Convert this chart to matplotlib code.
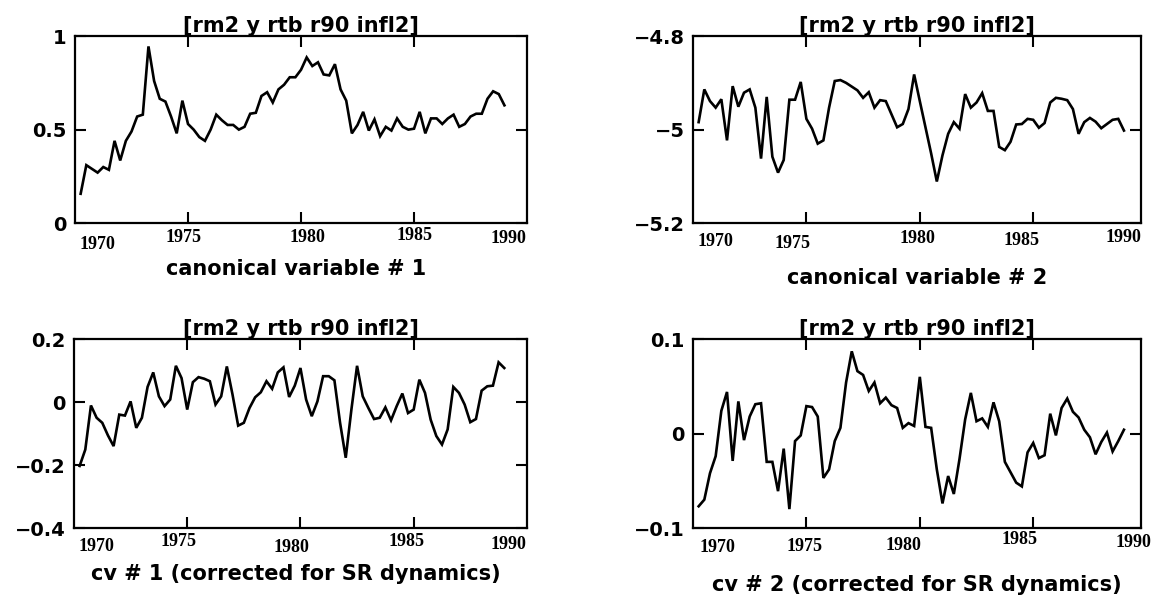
import numpy as np
import matplotlib.pyplot as plt

plt.rcParams['font.family'] = ['DejaVu Sans']

# quarterly observations, 1970Q2 .. 1989Q1
quarters = 1970.25 + 0.25 * np.arange(76)

model = '[rm2 y rtb r90 infl2]'
year_labels = ['1970', '1975', '1980', '1985', '1990']

cv1 = [0.157, 0.31, 0.29, 0.27, 0.30, 0.285, 0.44, 0.335, 0.44, 0.49,
       0.57, 0.58, 0.945, 0.76, 0.665, 0.65, 0.57, 0.48, 0.655, 0.53,
       0.50, 0.46, 0.44, 0.50, 0.58, 0.55, 0.525, 0.525, 0.50, 0.515,
       0.585, 0.59, 0.68, 0.70, 0.645, 0.715, 0.74, 0.78, 0.78, 0.82,
       0.886, 0.84, 0.86, 0.795, 0.79, 0.85, 0.715, 0.655, 0.48, 0.525,
       0.595, 0.495, 0.555, 0.465, 0.515, 0.495, 0.56, 0.515, 0.50, 0.505,
       0.595, 0.48, 0.56, 0.56, 0.53, 0.56, 0.58, 0.515, 0.53, 0.57,
       0.585, 0.585, 0.665, 0.705, 0.69, 0.63]

cv2 = [-4.984, -4.914, -4.939, -4.953, -4.935, -5.023, -4.907, -4.951, -4.921, -4.914,
       -4.953, -5.062, -4.930, -5.058, -5.092, -5.065, -4.936, -4.936, -4.898, -4.977,
       -4.998, -5.030, -5.023, -4.953, -4.896, -4.894, -4.900, -4.908, -4.916, -4.932,
       -4.920, -4.953, -4.937, -4.939, -4.967, -4.995, -4.988, -4.956, -4.882, -4.939,
       -4.995, -5.051, -5.111, -5.055, -5.009, -4.984, -4.998, -4.924, -4.953, -4.942,
       -4.922, -4.960, -4.960, -5.037, -5.044, -5.026, -4.989, -4.988, -4.977, -4.979,
       -4.996, -4.986, -4.942, -4.932, -4.934, -4.937, -4.956, -5.009, -4.984, -4.975,
       -4.983, -4.997, -4.988, -4.979, -4.977, -5.002]

cv1_sr = [-0.203, -0.151, -0.011, -0.050, -0.066, -0.106, -0.140, -0.040, -0.043, 0.002,
          -0.082, -0.050, 0.048, 0.094, 0.018, -0.013, 0.008, 0.115, 0.076, -0.024,
          0.063, 0.079, 0.074, 0.066, -0.008, 0.018, 0.113, 0.024, -0.075, -0.066,
          -0.019, 0.015, 0.031, 0.066, 0.042, 0.094, 0.110, 0.016, 0.052, 0.108,
          0.008, -0.045, 0.002, 0.082, 0.082, 0.069, -0.066, -0.177, -0.024, 0.115,
          0.018, -0.019, -0.054, -0.050, -0.017, -0.058, -0.013, 0.027, -0.035, -0.024,
          0.071, 0.029, -0.056, -0.108, -0.135, -0.087, 0.048, 0.029, -0.008, -0.064,
          -0.054, 0.036, 0.050, 0.052, 0.126, 0.108]

cv2_sr = [-0.077, -0.070, -0.042, -0.024, 0.024, 0.044, -0.029, 0.034, -0.007, 0.018,
          0.031, 0.032, -0.030, -0.030, -0.061, -0.016, -0.080, -0.008, -0.002, 0.029,
          0.028, 0.018, -0.047, -0.038, -0.008, 0.006, 0.054, 0.087, 0.066, 0.062,
          0.045, 0.054, 0.032, 0.038, 0.030, 0.027, 0.006, 0.011, 0.008, 0.060,
          0.007, 0.006, -0.038, -0.074, -0.045, -0.064, -0.027, 0.015, 0.043, 0.013,
          0.016, 0.007, 0.033, 0.013, -0.030, -0.041, -0.052, -0.056, -0.020, -0.010,
          -0.026, -0.023, 0.021, -0.002, 0.027, 0.037, 0.023, 0.017, 0.004, -0.004,
          -0.022, -0.009, 0.001, -0.019, -0.008, 0.004]

panels = [
    dict(values=cv1, rect=[0.065, 0.625, 0.3917, 0.3143], xmax=1990,
         ylim=(0, 1), yticks=[0, 0.5, 1], ylabels=['0', '0.5', '1'],
         caption='canonical variable # 1', cap_xy=(0.49, -0.245),
         lab_x=[1971.0, 1974.8, 1980.3, 1985.0, 1989.2],
         lab_y=[-0.114, -0.079, -0.075, -0.065, -0.082]),
    dict(values=cv2, rect=[0.6005, 0.625, 0.3882, 0.3143], xmax=1989.75,
         ylim=(-5.2, -4.8), yticks=[-5.2, -5.0, -4.8],
         ylabels=['\u22125.2', '\u22125', '\u22124.8'],
         caption='canonical variable # 2', cap_xy=(0.50, -0.295),
         lab_x=[1971.0, 1974.4, 1979.9, 1984.5, 1989.0],
         lab_y=[-0.098, -0.111, -0.081, -0.093, -0.076]),
    dict(values=cv1_sr, rect=[0.0641, 0.1126, 0.3925, 0.3176], xmax=1990,
         ylim=(-0.4, 0.2), yticks=[-0.4, -0.2, 0, 0.2],
         ylabels=['\u22120.4', '\u22120.2', '0', '0.2'],
         caption='cv # 1 (corrected for SR dynamics)', cap_xy=(0.49, -0.245),
         lab_x=[1971.0, 1974.6, 1979.6, 1984.7, 1989.2],
         lab_y=[-0.099, -0.074, -0.104, -0.069, -0.086]),
    dict(values=cv2_sr, rect=[0.6005, 0.1126, 0.3882, 0.3176], xmax=1989.75,
         ylim=(-0.1, 0.1), yticks=[-0.1, 0, 0.1], ylabels=['\u22120.1', '0', '0.1'],
         caption='cv # 2 (corrected for SR dynamics)', cap_xy=(0.50, -0.30),
         lab_x=[1971.1, 1974.9, 1979.3, 1984.4, 1989.4],
         lab_y=[-0.104, -0.099, -0.095, -0.063, -0.077]),
]

fig = plt.figure(figsize=(11.54, 5.95), dpi=100)

for p in panels:
    ax = fig.add_axes(p['rect'])
    ax.plot(quarters, p['values'], color='black', lw=1.9, solid_joinstyle='miter')
    ax.set_xlim(1970, p['xmax'])
    ax.set_ylim(*p['ylim'])

    ax.set_xticks([1975, 1980, 1985])
    ax.set_xticklabels([])
    ax.set_yticks(p['yticks'])
    ax.set_yticklabels(p['ylabels'], fontsize=14, fontweight='bold')
    ax.tick_params(direction='in', top=True, right=True, length=8, width=1.5,
                   pad=6, colors='black')
    for s in ax.spines.values():
        s.set_linewidth(1.6)

    ax.set_title(model, fontsize=15, fontweight='bold', pad=2)

    # year labels set in a bold serif face
    for lab, x, y in zip(year_labels, p['lab_x'], p['lab_y']):
        ax.text(x, y, lab, transform=ax.get_xaxis_transform(), ha='center',
                va='center', fontsize=13, fontweight='bold',
                family='Liberation Serif')

    ax.text(p['cap_xy'][0], p['cap_xy'][1], p['caption'], transform=ax.transAxes,
            ha='center', va='center', fontsize=15, fontweight='bold')

fig.savefig('out.png', dpi=100, facecolor='white')
